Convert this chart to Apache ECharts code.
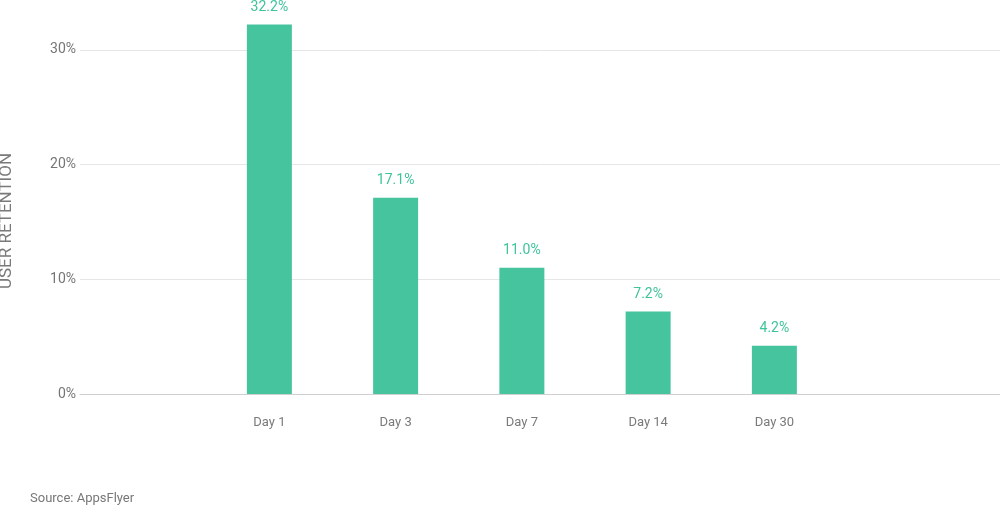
<!DOCTYPE html>
<html>
<head>
<meta charset="utf-8">
<script src="https://cdn.jsdelivr.net/npm/echarts@6/dist/echarts.min.js"></script>
<style>html,body{margin:0;padding:0;background:#fff}#c{width:1000px;height:508px}</style>
</head>
<body>
<div id="c"></div>
<script>
const categories = ['', 'Day 1', 'Day 3', 'Day 7', 'Day 14', 'Day 30', '', ''];
const retention = [null, 32.2, 17.1, 11.0, 7.2, 4.2, null, null];
const yTicks = [0, 10, 20, 30];
const axisName = 'USER RETENTION';
const sourceText = 'Source: AppsFlyer';

const chart = echarts.init(document.getElementById('c'), null, {renderer: 'canvas'});
chart.setOption({
  animation: false,
  backgroundColor: '#fff',
  grid: {left: 80, right: -90, top: -65, bottom: 114, containLabel: false, outerBoundsMode: 'none'},
  xAxis: {
    type: 'category',
    data: categories,
    axisLine: {lineStyle: {color: '#cfcfcf', width: 1}},
    axisTick: {show: false},
    axisLabel: {color: '#7a7a7a', fontSize: 13, fontFamily: 'Roboto', margin: 22, interval: 0}
  },
  yAxis: {
    type: 'value',
    min: yTicks[0],
    max: 40,
    interval: 10,
    axisLine: {show: false},
    axisTick: {show: false},
    splitLine: {lineStyle: {color: '#e6e6e6', width: 1}},
    axisLabel: {
      color: '#757575', fontSize: 14, fontFamily: 'Roboto', margin: 4,
      formatter: v => (yTicks.indexOf(v) >= 0 ? v + '%' : '')
    }
  },
  series: [{
    type: 'bar',
    data: retention,
    barWidth: 45,
    itemStyle: {color: '#46c49e'},
    label: {
      show: true, position: 'top', distance: 10,
      color: '#3fc39a', fontSize: 14, fontFamily: 'Roboto',
      formatter: p => p.value.toFixed(1) + '%'
    }
  }],
  graphic: [
    {type: 'text', x: 7, y: 221, rotation: Math.PI / 2, z: 10,
     style: {text: axisName, fill: '#7a7a7a', fontSize: 17, fontFamily: 'Roboto', align: 'center', verticalAlign: 'middle'}},
    {type: 'text', left: 30, top: 492, style: {text: sourceText, fill: '#777777', fontSize: 13, fontFamily: 'Roboto'}}
  ]
});
</script>
</body>
</html>
